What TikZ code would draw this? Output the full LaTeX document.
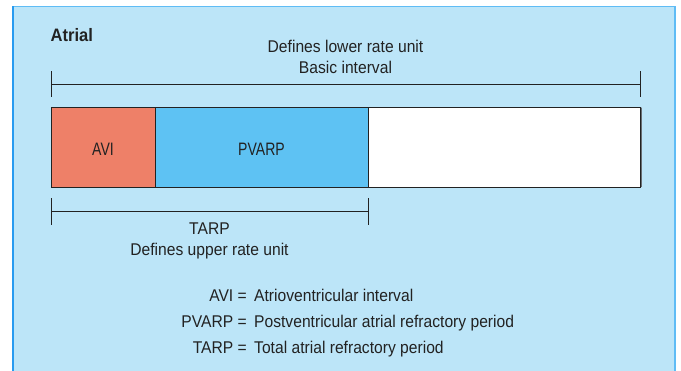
\documentclass[tikz,border=0pt]{standalone}
\usepackage{fontspec}
\setmainfont{Liberation Sans}[FakeStretch=0.92]
\newfontfamily\barfont{Liberation Sans}[FakeStretch=0.78]
\definecolor{panelbg}{RGB}{188,229,248}
\definecolor{panelleft}{RGB}{40,155,240}
\definecolor{paneltop}{RGB}{95,188,245}
\definecolor{aviorange}{RGB}{238,128,104}
\definecolor{pvarpblue}{RGB}{94,194,243}
\definecolor{txt}{RGB}{34,34,34}
\definecolor{shadowgray}{RGB}{105,110,115}
\tikzset{
  seg/.style={draw=txt, line width=0.9pt, inner sep=0pt, outer sep=0pt,
    minimum height=80pt, anchor=north west, text=txt,
    text height=17pt, text depth=0pt,
    font=\barfont\fontsize{18}{20}\selectfont},
  lbl/.style={text=txt, inner sep=0pt, font=\fontsize{17}{20}\selectfont},
  rule/.style={draw=txt, line width=0.9pt},
}
\begin{document}
\begin{tikzpicture}[x=1pt,y=-1pt]
\useasboundingbox (0,0) rectangle (681,370);
% panel
\fill[panelbg] (12,6) rectangle (676,371);
\draw[paneltop, line width=1.5pt] (12,6.5) -- (676,6.5);
\draw[panelleft, line width=2pt] (13,6) -- (13,371);
\draw[paneltop, line width=2pt] (675,6) -- (675,371);
% title
\node[lbl, anchor=base west, font=\bfseries\fontsize{18}{20}\selectfont] (title) at (50.5,41.5) {Atrial};
% upper labels
\node[lbl, anchor=base] (lower) at (345.5,52.5) {Defines lower rate unit};
\node[lbl, anchor=base] (basic) at (345.5,73.5) {Basic interval};
% basic interval rule
\coordinate (bL) at (51,84);
\coordinate (bR) at (640,84);
\draw[rule] (bL) -- (bR);
\draw[rule] ([yshift=13pt]bL) -- ([yshift=-13pt]bL);
\draw[rule] ([yshift=13pt]bR) -- ([yshift=-13pt]bR);
% bar
\node[seg, fill=aviorange, minimum width=104pt] (avi) at (51,107) {AVI};
\node[seg, fill=pvarpblue, minimum width=213pt] (pvarp) at (avi.north east) {PVARP};
\draw[shadowgray, line width=1.6pt] ([xshift=1pt,yshift=0.5pt]pvarp.south east) -- ([xshift=1pt,yshift=1pt]640,187) -- ([xshift=1pt]640,107.5);
\node[seg, fill=white, minimum width=272pt] (rest) at (pvarp.north east) {};
% TARP rule
\coordinate (tL) at (51,211.5);
\coordinate (tR) at (368,211.5);
\draw[rule] (tL) -- (tR);
\draw[rule] ([yshift=13.5pt]tL) -- ([yshift=-13.5pt]tL);
\draw[rule] ([yshift=13.5pt]tR) -- ([yshift=-13.5pt]tR);
\node[lbl, anchor=base] (tarp) at (209.5,234.3) {TARP};
\node[lbl, anchor=base] (upper) at (209.5,255) {Defines upper rate unit};
% legend
\node[lbl, anchor=base east] (k1) at (247,301) {AVI =};
\node[lbl, anchor=base west] (v1) at (254,301) {Atrioventricular interval};
\node[lbl, anchor=base east] (k2) at (247,327.5) {PVARP =};
\node[lbl, anchor=base west] (v2) at (254,327.5) {Postventricular atrial refractory period};
\node[lbl, anchor=base east] (k3) at (247,353) {TARP =};
\node[lbl, anchor=base west] (v3) at (254,353) {Total atrial refractory period};
\end{tikzpicture}
\end{document}
